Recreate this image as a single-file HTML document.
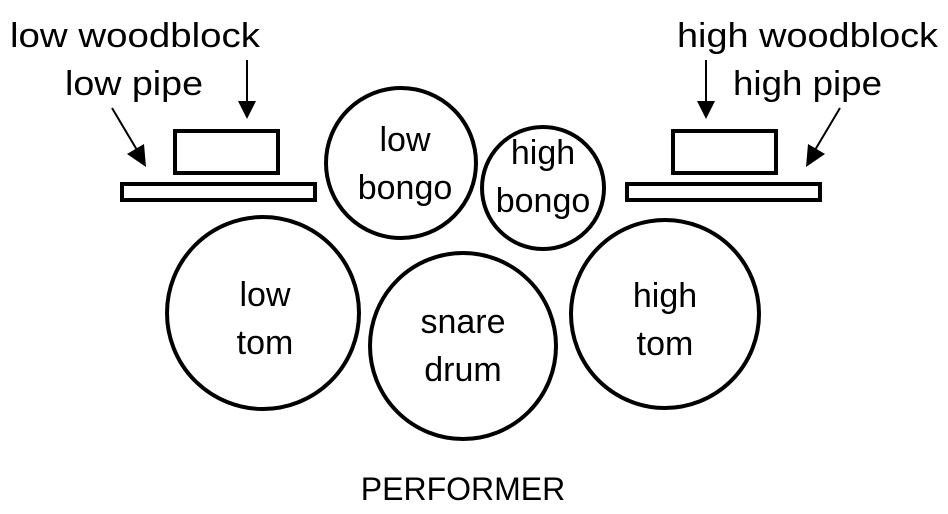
<!DOCTYPE html>
<html><head><style>
html,body{margin:0;padding:0;background:#fff;}
svg{display:block;}
text{font-family:"Liberation Sans",sans-serif;font-size:34px;fill:#000;}
</style></head><body>
<svg width="948" height="514" viewBox="0 0 948 514">
<g fill="none" stroke="#000" stroke-width="4">
<rect x="175" y="131" width="103" height="42"/>
<rect x="122" y="184" width="193" height="16"/>
<rect x="673" y="131" width="103" height="42"/>
<rect x="627" y="184" width="193" height="16"/>
<circle cx="401" cy="163" r="75"/>
<circle cx="543" cy="188" r="61"/>
<circle cx="263" cy="313" r="96"/>
<circle cx="463" cy="346" r="93"/>
<circle cx="665" cy="314" r="94"/>
<g stroke-width="2">
<line x1="247" y1="60" x2="247" y2="104"/>
<line x1="112" y1="108" x2="137" y2="150"/>
<line x1="706" y1="60" x2="706" y2="104"/>
<line x1="840" y1="108" x2="815" y2="150"/>
</g>
</g>
<g fill="#000">
<path d="M238,101 L256,101 L247,119 Z"/>
<path d="M697,101 L715,101 L706,119 Z"/>
<path d="M127,154 L144,144 L146,167 Z"/>
<path d="M825,154 L808,144 L806,167 Z"/>
</g>
<text x="10" y="47" textLength="250" lengthAdjust="spacingAndGlyphs">low woodblock</text>
<text x="65" y="95" textLength="138" lengthAdjust="spacingAndGlyphs">low pipe</text>
<text x="677" y="47" textLength="261" lengthAdjust="spacingAndGlyphs">high woodblock</text>
<text x="733" y="95" textLength="149" lengthAdjust="spacingAndGlyphs">high pipe</text>
<g text-anchor="middle">
<text x="405" y="151">low</text><text x="405" y="199">bongo</text>
<text x="543" y="164">high</text><text x="543" y="212">bongo</text>
<text x="265" y="306">low</text><text x="265" y="354">tom</text>
<text x="463" y="333">snare</text><text x="463" y="381">drum</text>
<text x="665" y="307">high</text><text x="665" y="355">tom</text>
<text x="463" y="500" style="font-size:32px">PERFORMER</text>
</g>
</svg>
</body></html>
